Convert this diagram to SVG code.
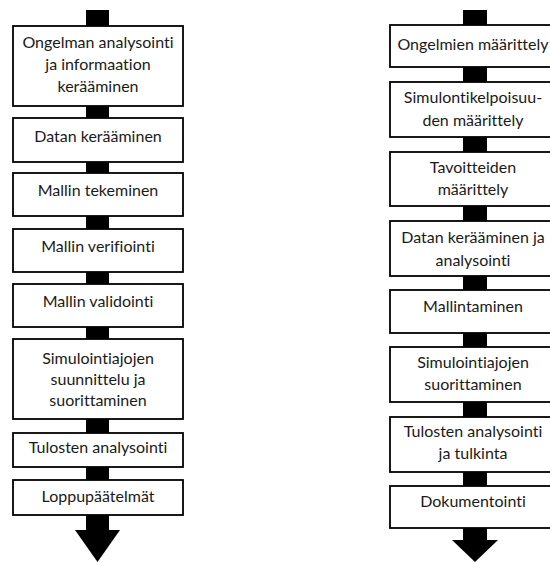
<svg xmlns="http://www.w3.org/2000/svg" width="550" height="563" viewBox="0 0 550 563">
<style>
.box{fill:#fff;stroke:#000;stroke-width:1.8}
.bar{fill:#000}
text{font-family:Lato,"Open Sans","Liberation Sans",sans-serif;font-size:16px;fill:#1a1a1a;text-anchor:middle;font-variant-ligatures:none;font-feature-settings:"liga" 0,"clig" 0,"dlig" 0}
</style>
<rect width="550" height="563" fill="#fff"/>
<g id="connectors">
<rect class="bar" x="86" y="10" width="23" height="16"/>
<rect class="bar" x="86" y="106" width="23" height="12"/>
<rect class="bar" x="86" y="162" width="23" height="11"/>
<rect class="bar" x="86" y="216" width="23" height="13"/>
<rect class="bar" x="86" y="272" width="23" height="12"/>
<rect class="bar" x="86" y="327" width="23" height="12"/>
<rect class="bar" x="86" y="419" width="23" height="14"/>
<rect class="bar" x="86" y="467" width="23" height="13"/>
<rect class="bar" x="86" y="515" width="23" height="16"/>
<polygon class="bar" points="75,530 120,530 97.5,562"/>
<rect class="bar" x="463" y="10" width="24" height="15"/>
<rect class="bar" x="463" y="67" width="24" height="15"/>
<rect class="bar" x="463" y="137" width="24" height="15"/>
<rect class="bar" x="463" y="206" width="24" height="15"/>
<rect class="bar" x="463" y="276" width="24" height="14"/>
<rect class="bar" x="463" y="333" width="24" height="14"/>
<rect class="bar" x="463" y="402" width="24" height="15"/>
<rect class="bar" x="463" y="472" width="24" height="14"/>
<rect class="bar" x="463" y="528" width="24" height="13"/>
<polygon class="bar" points="452,540 498,540 475,562"/>
</g>
<g id="l1"><rect class="box" x="13" y="26" width="170" height="80"/><text x="98" y="48">Ongelman analysointi</text><text x="98" y="70">ja informaation</text><text x="98" y="92">kerääminen</text></g>
<g id="l2"><rect class="box" x="13" y="118" width="170" height="44"/><text x="98" y="142">Datan kerääminen</text></g>
<g id="l3"><rect class="box" x="13" y="173" width="170" height="43"/><text x="98" y="196">Mallin tekeminen</text></g>
<g id="l4"><rect class="box" x="13" y="229" width="170" height="43"/><text x="98" y="252">Mallin verifiointi</text></g>
<g id="l5"><rect class="box" x="13" y="284" width="170" height="43"/><text x="98" y="307">Mallin validointi</text></g>
<g id="l6"><rect class="box" x="13" y="339" width="170" height="80"/><text x="98" y="364">Simulointiajojen</text><text x="98" y="385">suunnittelu ja</text><text x="98" y="406">suorittaminen</text></g>
<g id="l7"><rect class="box" x="13" y="433" width="170" height="34"/><text x="98" y="453">Tulosten analysointi</text></g>
<g id="l8"><rect class="box" x="13" y="480" width="170" height="35"/><text x="98" y="502">Loppupäätelmät</text></g>
<g id="r1"><rect class="box" x="390" y="25" width="170" height="42"/><text x="473" y="50">Ongelmien määrittely</text></g>
<g id="r2"><rect class="box" x="390" y="82" width="170" height="55"/><text x="473" y="103">Simulontikelpoisuu-</text><text x="473" y="126">den määrittely</text></g>
<g id="r3"><rect class="box" x="390" y="152" width="170" height="54"/><text x="473" y="173">Tavoitteiden</text><text x="473" y="195">määrittely</text></g>
<g id="r4"><rect class="box" x="390" y="221" width="170" height="55"/><text x="473" y="243">Datan kerääminen ja</text><text x="473" y="266">analysointi</text></g>
<g id="r5"><rect class="box" x="390" y="290" width="170" height="43"/><text x="473" y="312">Mallintaminen</text></g>
<g id="r6"><rect class="box" x="390" y="347" width="170" height="55"/><text x="473" y="368">Simulointiajojen</text><text x="473" y="390">suorittaminen</text></g>
<g id="r7"><rect class="box" x="390" y="417" width="170" height="55"/><text x="473" y="437">Tulosten analysointi</text><text x="473" y="459">ja tulkinta</text></g>
<g id="r8"><rect class="box" x="390" y="486" width="170" height="42"/><text x="473" y="507">Dokumentointi</text></g>
</svg>
